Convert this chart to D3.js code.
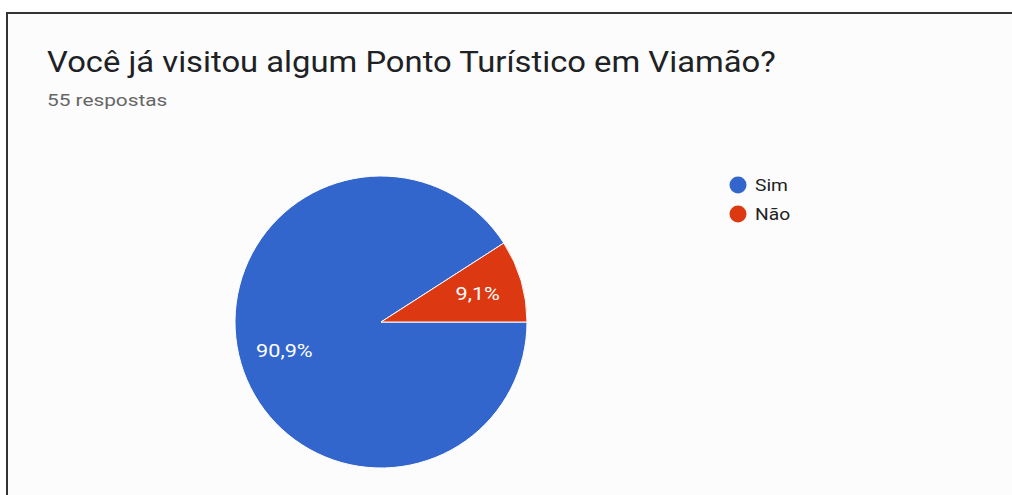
<!DOCTYPE html>
<html>
<head>
<meta charset="utf-8">
<script src="https://cdn.jsdelivr.net/npm/d3@7"></script>
<style>
  body { margin: 0; background: #fff; overflow: hidden; }
  svg { display: block; font-family: Roboto, Arial, sans-serif; }
</style>
</head>
<body>
<div id="chart"></div>
<script>
var width = 1012,
  height = 495;

var categories = ["Sim", "Não"];
var counts = [50, 5];
var colors = ["#3366cc", "#dc3912"];
var title = "Você já visitou algum Ponto Turístico em Viamão?";
var subtitle = "55 respostas";

var total = d3.sum(counts);
var mydata = categories.map(function (c, i) {
  return { name: c, value: counts[i], color: colors[i] };
});

var svg = d3.select("#chart").append("svg")
  .attr("width", width)
  .attr("height", height);

// the source glyphs are wider than Roboto, stretch text horizontally
function stretch(sel, k) {
  sel.each(function () {
    var w = this.getComputedTextLength();
    d3.select(this)
      .attr("textLength", w * k)
      .attr("lengthAdjust", "spacingAndGlyphs");
  });
}

// card background + border (only top and left show in the crop)
svg.append("rect")
  .attr("x", 7).attr("y", 13)
  .attr("width", width - 7).attr("height", height - 13)
  .attr("fill", "#fcfcfc");
svg.append("path")
  .attr("d", "M7," + height + "V13H" + width)
  .attr("fill", "none")
  .attr("stroke", "#333")
  .attr("stroke-width", 2);

svg.append("text")
  .attr("x", 47).attr("y", 72)
  .attr("font-size", 29)
  .attr("fill", "#202124")
  .text(title)
  .call(stretch, 1.13);

svg.append("text")
  .attr("x", 47).attr("y", 106)
  .attr("font-size", 16)
  .attr("fill", "#666")
  .text(subtitle)
  .call(stretch, 1.3);

var radius = 146;
var g = svg.append("g")
  .attr("transform", "translate(381,322)");

var pie = d3.pie()
  .sort(null)
  .value(function (d) { return d.value; })
  .startAngle(Math.PI / 2)
  .endAngle(Math.PI / 2 + 2 * Math.PI);

var arc = d3.arc().innerRadius(0).outerRadius(radius);
var labelArc = d3.arc().innerRadius(radius * 0.69).outerRadius(radius * 0.69);

var arcs = pie(mydata);

g.selectAll("path")
  .data(arcs)
  .enter()
  .append("path")
  .attr("d", arc)
  .attr("fill", function (d) { return d.data.color; })
  .attr("stroke", "#fff")
  .attr("stroke-width", 1);

var fmt = d3.format(".1f");
g.selectAll("text")
  .data(arcs)
  .enter()
  .append("text")
  .attr("transform", function (d) { return "translate(" + labelArc.centroid(d) + ")"; })
  .attr("text-anchor", "middle")
  .attr("dy", "0.35em")
  .attr("font-size", 18)
  .attr("fill", "#fff")
  .text(function (d) { return fmt(d.value / total * 100).replace(".", ",") + "%"; })
  .call(stretch, 1.2);

// legend
var legend = svg.selectAll("g.legend")
  .data(mydata)
  .enter()
  .append("g")
  .attr("class", "legend")
  .attr("transform", function (d, i) { return "translate(738," + (185 + i * 29) + ")"; });

legend.append("circle")
  .attr("r", 8.5)
  .attr("fill", function (d) { return d.color; });

legend.append("text")
  .attr("x", 17)
  .attr("dy", "0.35em")
  .attr("font-size", 16)
  .attr("fill", "#222")
  .text(function (d) { return d.name; })
  .call(stretch, 1.2);
</script>
</body>
</html>
